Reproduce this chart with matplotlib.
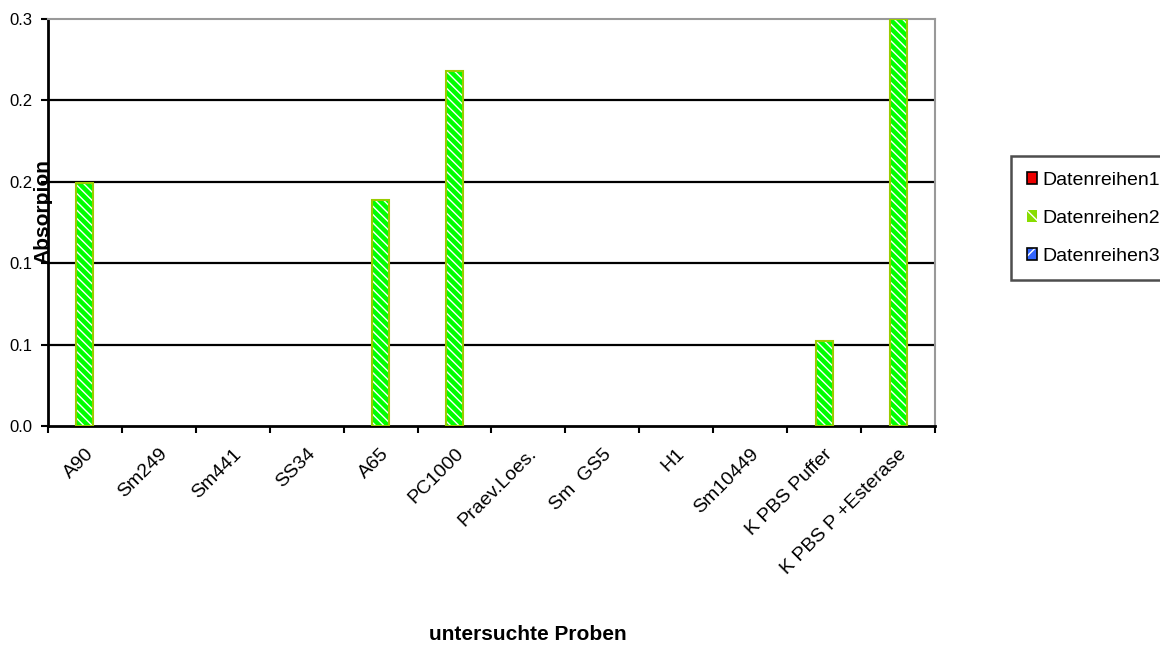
import numpy as np
import matplotlib
matplotlib.use("Agg")
import matplotlib.pyplot as plt
from matplotlib.patches import Patch

plt.rcParams['font.family'] = ['Liberation Sans', 'DejaVu Sans']

proben = ['A90', 'Sm249', 'Sm441', 'SS34', 'A65', 'PC1000', 'Praev.Loes.',
          'Sm  GS5', 'H1', 'Sm10449', 'K PBS Puffer', 'K PBS P +Esterase']
reihe1 = [0, 0, 0, 0, 0, 0, 0, 0, 0, 0, 0, 0]
reihe2 = [0.149, 0, 0, 0, 0.139, 0.218, 0, 0, 0, 0, 0.052, 0.25]
reihe3 = [0, 0, 0, 0, 0, 0, 0, 0, 0, 0, 0, 0]

yticks = [0.0, 0.05, 0.10, 0.15, 0.20, 0.25]
ytick_labels = ['0.0', '0.1', '0.1', '0.2', '0.2', '0.3']

green = '#00ff00'
green_edge = '#99cc00'

fig = plt.figure(figsize=(11.6, 6.46), dpi=100)
ax = fig.add_axes([48 / 1160, 1 - 426 / 646, (935 - 48) / 1160, (426 - 19) / 646])

x = np.arange(len(proben))
w = 0.23


def edges(vals, c):
    # no outline for empty bars, otherwise they show up as dashes on the axis
    return [c if v > 0 else 'none' for v in vals]


for t in yticks[1:-1]:
    ax.axhline(t, color='black', lw=1.6, zorder=1)

ax.bar(x - w, reihe1, w, color='#cc0000', edgecolor=edges(reihe1, 'black'), lw=0.8, zorder=2)
ax.bar(x, reihe2, w, color=green, edgecolor='white', hatch='\\\\\\\\', lw=0, zorder=2)
ax.bar(x, reihe2, w, color='none', edgecolor=edges(reihe2, green_edge), lw=1.5, zorder=3)
ax.bar(x + w, reihe3, w, color='#3366ff', edgecolor=edges(reihe3, 'black'), lw=0.8, zorder=2)

ax.set_xlim(-0.5, len(proben) - 0.5)
ax.set_ylim(0, 0.25)
ax.set_yticks(yticks)
ax.set_yticklabels(ytick_labels, fontsize=12)
ax.set_xticks(np.arange(len(proben) + 1) - 0.5)
ax.set_xticklabels([])
ax.set_xticks(x, minor=True)
ax.set_xticklabels(proben, minor=True, rotation=45, ha='right', rotation_mode='anchor',
                   fontsize=14)
ax.tick_params(axis='x', which='minor', length=0, pad=14)
ax.tick_params(axis='x', which='major', length=5, width=1.5, direction='out')
ax.tick_params(axis='y', length=5, width=1.5, direction='out', pad=6)

for s in ['top', 'right']:
    ax.spines[s].set_color('#999999')
    ax.spines[s].set_linewidth(1.5)
for s in ['left', 'bottom']:
    ax.spines[s].set_color('black')
    ax.spines[s].set_linewidth(2)

fig.text(43 / 1160, 1 - 212 / 646, 'Absorpion', rotation=90, fontsize=15,
         fontweight='bold', ha='center', va='center')
fig.text(528 / 1160, 1 - 635 / 646, 'untersuchte Proben', fontsize=15,
         fontweight='bold', ha='center', va='center')

h1 = Patch(facecolor='#ee0000', edgecolor='black', lw=1.2)
h2 = Patch(facecolor='#88dd00', edgecolor='white', hatch='\\\\', lw=0)
h3 = (Patch(facecolor='#3366ff', edgecolor='white', hatch='//', lw=0),
      Patch(facecolor='none', edgecolor='black', lw=1.2))
leg = fig.legend(handles=[h1, h2, h3],
                 labels=['Datenreihen1', 'Datenreihen2', 'Datenreihen3'],
                 loc='upper left', bbox_to_anchor=(1011 / 1160, 1 - 156 / 646),
                 fontsize=14, frameon=True, fancybox=False,
                 handlelength=0.55, handleheight=0.55, handletextpad=0.25,
                 labelspacing=1.08, borderpad=0.8, borderaxespad=0)
leg.get_frame().set_edgecolor('#222222')
leg.get_frame().set_linewidth(1.8)

fig.savefig('out.png', dpi=100)
